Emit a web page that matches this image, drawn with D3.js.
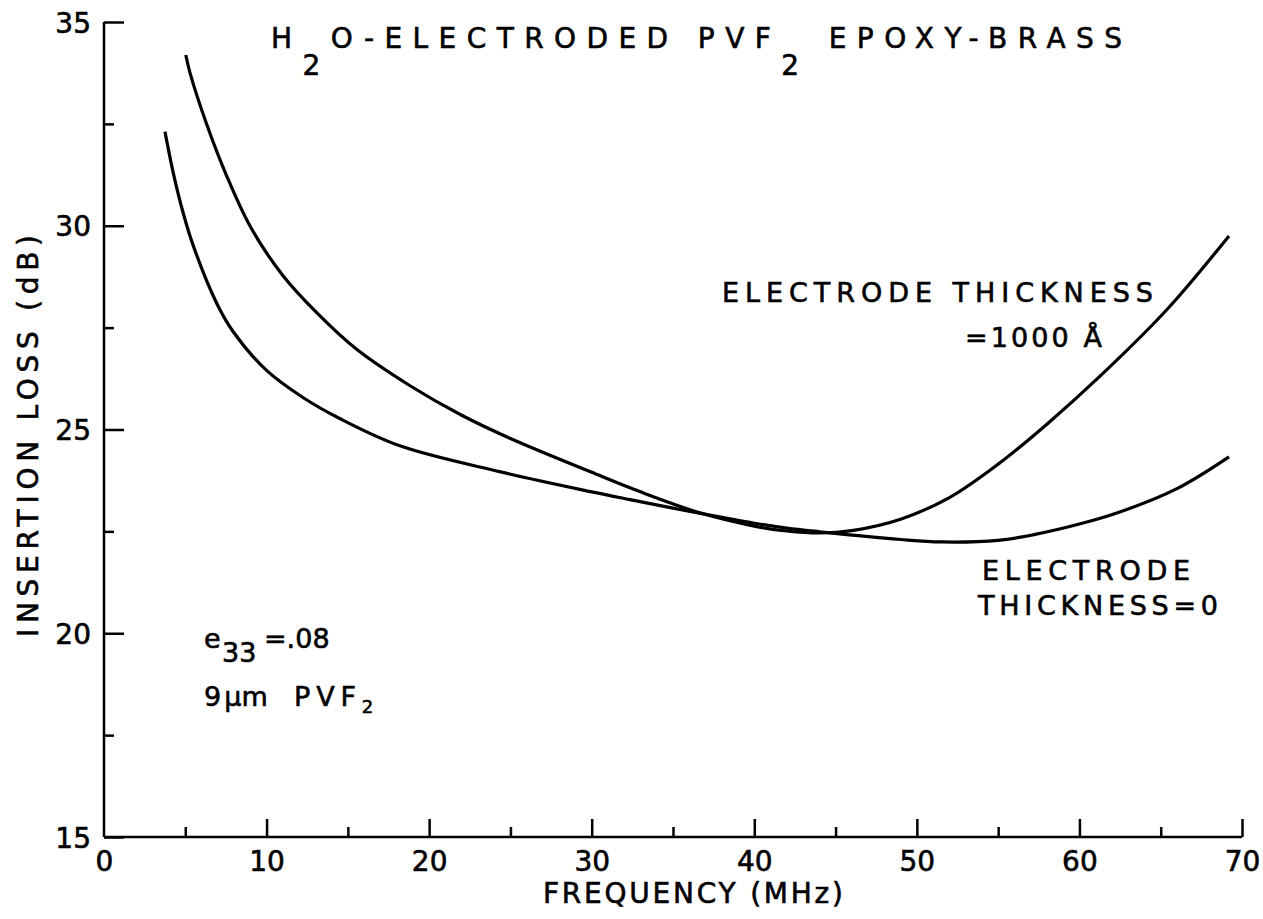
<!DOCTYPE html>
<html>
<head>
<meta charset="utf-8">
<script src="https://cdn.jsdelivr.net/npm/d3@7"></script>
<style>
  html, body { margin: 0; padding: 0; background: #fff; }
  svg { display: block; }
  text { font-family: "DejaVu Sans", "Liberation Sans", sans-serif; fill: #000; stroke: #000; stroke-width: 0.6px; }
</style>
</head>
<body>
<script>
// ---- data ----
const freqThick = [5.03, 5.3, 6.3, 7.55, 9.0, 11.0, 13.1, 15.5, 18.8, 22, 25, 30, 33, 36.7, 40, 42, 44, 46, 49, 52, 55, 58, 61.3, 65.4, 69.2];
const lossThick = [34.19, 33.74, 32.51, 31.22, 29.98, 28.78, 27.86, 26.98, 26.08, 25.35, 24.78, 23.95, 23.47, 22.95, 22.63, 22.51, 22.46, 22.52, 22.8, 23.33, 24.15, 25.13, 26.32, 27.95, 29.75];

const freqZero = [3.75, 4.26, 4.88, 5.5, 6.93, 7.95, 10, 12.26, 14.5, 18.2, 24.4, 30, 32.35, 36.7, 40, 42, 44, 46, 49, 51.5, 55, 57.2, 60, 62.3, 66, 69.2];
const lossZero = [32.31, 31.3, 30.3, 29.5, 28.1, 27.4, 26.45, 25.78, 25.27, 24.6, 23.96, 23.47, 23.28, 22.94, 22.7, 22.58, 22.49, 22.41, 22.3, 22.24, 22.28, 22.42, 22.68, 22.95, 23.55, 24.33];

const xMajorTicks = [0, 10, 20, 30, 40, 50, 60, 70];
const xMinorTicks = [5, 15, 25, 35, 45, 55, 65];
const yMajorTicks = [15, 20, 25, 30, 35];
const yMinorTicks = [17.5, 22.5, 27.5, 32.5];

const W = 1263, H = 919;
const svg = d3.select("body").append("svg").attr("width", W).attr("height", H);

const x = d3.scaleLinear().domain([0, 70]).range([104, 1242]);
const y = d3.scaleLinear().domain([15, 35]).range([837, 22]);

// axes
const xAxis = svg.append("g").attr("transform", `translate(0,${y(15)})`)
  .call(d3.axisBottom(x).tickValues(xMajorTicks).tickSize(-18).tickPadding(14).tickFormat(d3.format("d")));
const xMinor = svg.append("g").attr("transform", `translate(0,${y(15)})`)
  .call(d3.axisBottom(x).tickValues(xMinorTicks).tickSize(-10).tickFormat(""));
const yAxis = svg.append("g").attr("transform", `translate(${x(0)},0)`)
  .call(d3.axisLeft(y).tickValues(yMajorTicks).tickSize(-20).tickPadding(13).tickFormat(d3.format("d")));
const yMinor = svg.append("g").attr("transform", `translate(${x(0)},0)`)
  .call(d3.axisLeft(y).tickValues(yMinorTicks).tickSize(-10).tickFormat(""));

[xAxis, xMinor, yAxis, yMinor].forEach(g => {
  g.selectAll("path.domain").attr("stroke", "#000").attr("stroke-width", 2.5);
  g.selectAll(".tick line").attr("stroke", "#000").attr("stroke-width", 2.5);
  g.selectAll(".tick text").style("font-family", "DejaVu Sans, sans-serif").style("font-size", "28px")
    .attr("fill", "#000").attr("stroke", "#000").attr("stroke-width", 0.6);
});
xMinor.select("path.domain").remove();
yMinor.select("path.domain").remove();
xAxis.select("path.domain").attr("d", `M${x(0)},0H${x(70)}`);
yAxis.select("path.domain").attr("d", `M0,${y(15)}V${y(35)}`);
xAxis.selectAll(".tick").filter(d => d === 0).select("line").remove();
yAxis.selectAll(".tick text").attr("dy", "0.36em");

// curves
const line = d3.line().x(d => x(d[0])).y(d => y(d[1])).curve(d3.curveCatmullRom.alpha(0.5));
svg.append("path").datum(d3.zip(freqThick, lossThick))
  .attr("d", line).attr("fill", "none").attr("stroke", "#000").attr("stroke-width", 3.2);
svg.append("path").datum(d3.zip(freqZero, lossZero))
  .attr("d", line).attr("fill", "none").attr("stroke", "#000").attr("stroke-width", 3.2);

// title
const title = svg.append("text").attr("x", 271).attr("y", 48)
  .attr("textLength", 851).attr("lengthAdjust", "spacing")
  .style("font-size", "28px");
title.append("tspan").text("H");
title.append("tspan").attr("dy", 27).text("2");
title.append("tspan").attr("dy", -27).text("O-ELECTRODED PVF");
title.append("tspan").attr("dy", 27).text("2");
title.append("tspan").attr("dy", -27).text(" EPOXY-BRASS");

// axis titles
svg.append("text").attr("x", 543).attr("y", 903)
  .attr("textLength", 300).attr("lengthAdjust", "spacing")
  .style("font-size", "28px").text("FREQUENCY (MHz)");
svg.append("text").attr("transform", "translate(38,436) rotate(-90)")
  .attr("text-anchor", "middle")
  .attr("textLength", 402).attr("lengthAdjust", "spacing")
  .style("font-size", "28px").text("INSERTION LOSS (dB)");

// annotations
function label(txt, x0, yb, len) {
  return svg.append("text").attr("x", x0).attr("y", yb)
    .attr("textLength", len).attr("lengthAdjust", "spacing")
    .style("font-size", "27px").text(txt);
}
label("ELECTRODE THICKNESS", 722, 302, 431);
label("=1000 Å", 965, 347, 137);
label("ELECTRODE", 982, 580, 208);
label("THICKNESS=0", 978, 615, 240);

const e33 = svg.append("text").attr("x", 204).attr("y", 648).style("font-size", "27px");
e33.append("tspan").text("e");
e33.append("tspan").attr("dy", 14).attr("x", 222).text("33");
e33.append("tspan").attr("dy", -14).attr("x", 264).text("=.08");

const pvf = svg.append("text").attr("x", 204).attr("y", 706).style("font-size", "27px");
pvf.append("tspan").text("9");
pvf.append("tspan").text("μ").attr("dx", 3);
pvf.append("tspan").text("m");
pvf.append("tspan").attr("x", 294).attr("textLength", 62).text("PVF");
pvf.append("tspan").attr("dy", 7).style("font-size", "18px").text("2");
</script>
</body>
</html>
